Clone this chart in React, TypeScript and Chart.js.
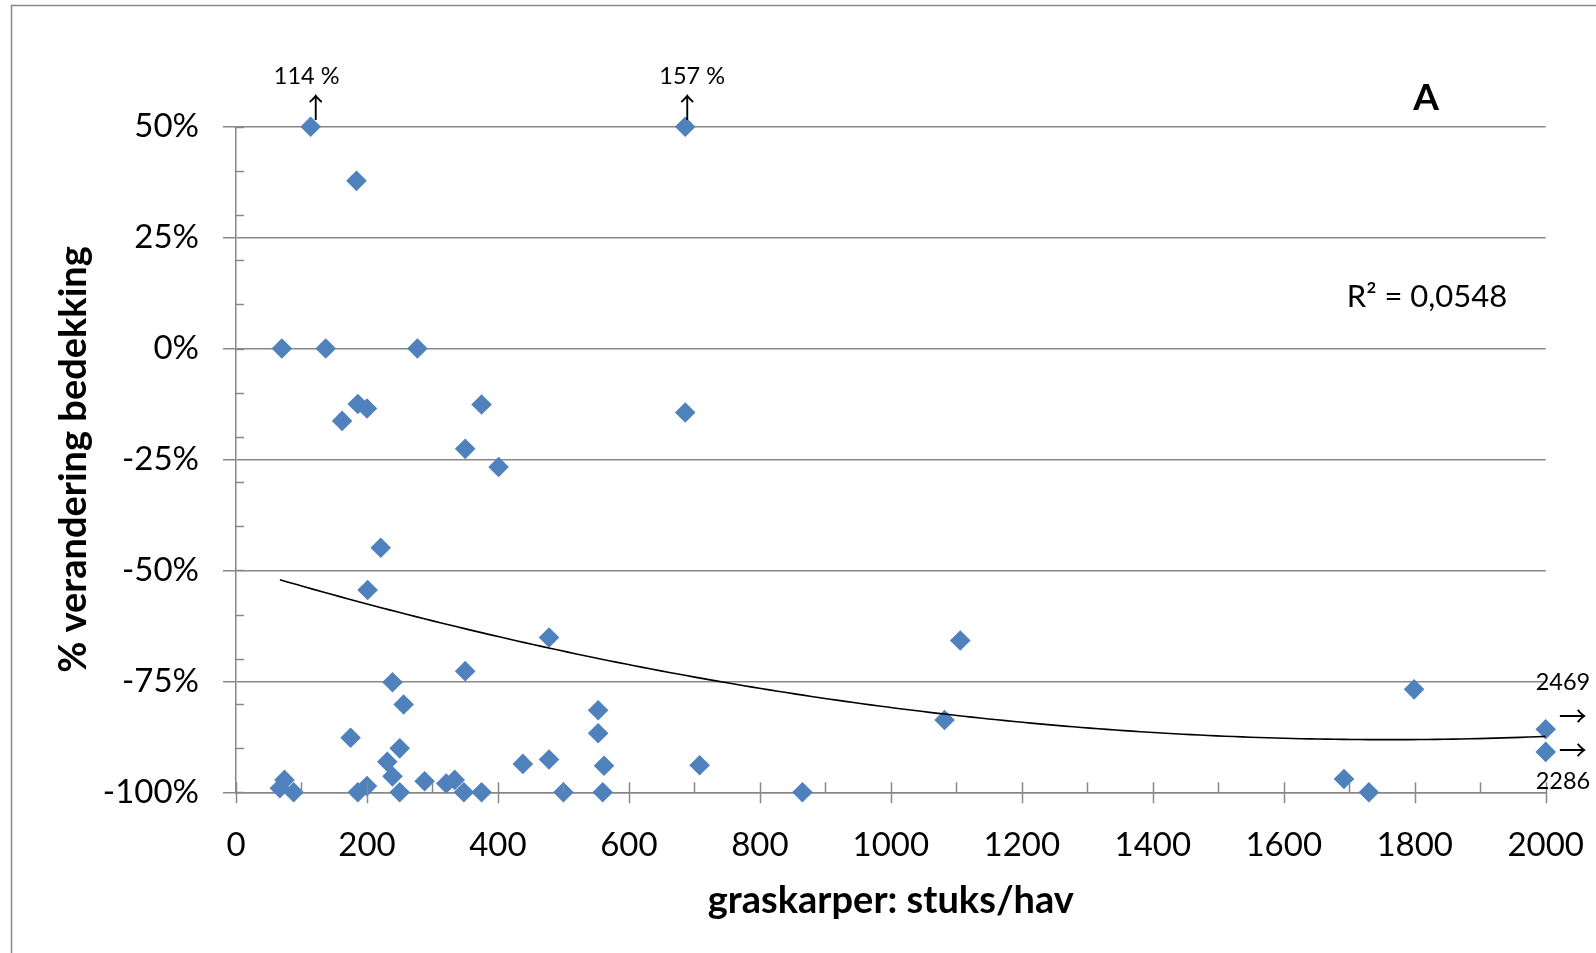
import React, { useEffect, useRef } from 'react';
import { Chart, registerables } from 'chart.js';

Chart.register(...registerables);

// ---- data ----
const carpPerHa = [
  114, 686, 184, 70, 137, 277, 162, 186, 200, 375,
  350, 401, 686, 221, 201, 478, 1106, 350, 239, 256,
  553, 553, 175, 250, 231, 239, 438, 478, 562, 288,
  321, 334, 74, 67, 88, 186, 200, 250, 348, 375,
  500, 560, 708, 865, 1082, 1799, 2000, 2000, 1692, 1730,
];
const coverChangePct = [
  50, 50, 37.8, 0, 0, 0, -16.3, -12.5, -13.5, -12.6,
  -22.6, -26.7, -14.4, -44.9, -54.4, -65.1, -65.8, -72.7, -75.2, -80.2,
  -81.5, -86.7, -87.7, -90.1, -93.1, -96.4, -93.6, -92.6, -94.0, -97.5,
  -98, -97.2, -97.2, -99.1, -100, -100, -98.6, -100, -100, -100,
  -100, -100, -93.9, -100, -83.7, -76.8, -85.8, -90.9, -97.0, -100,
];
// off-scale points: true value shown as a note
const upNotes = [
  { index: 0, text: '114 %' },
  { index: 1, text: '157 %' },
];
const rightNotes = [
  { index: 46, text: '2469', above: true },
  { index: 47, text: '2286', above: false },
];
const X_MIN = 0;
const X_MAX = 2000;
const X_MAJOR = 200;
const X_MINOR = 100;
const Y_MIN = -100;
const Y_MAX = 50;
const Y_MAJOR = 25;
const Y_MINOR = 10;
const R2_TEXT = 'R² = 0,0548';
const PANEL_LABEL = 'A';
const X_TITLE = 'graskarper: stuks/hav';
const Y_TITLE = '% verandering bedekking';

// ---- layout ----
const W = 1596;
const H = 953;
const PLOT_LEFT = 236;
const PLOT_RIGHT = 1545.7;
const PLOT_TOP = 126.7;
const PLOT_BOTTOM = 792.3;
const FONT = 'Lato, "Noto Sans", sans-serif';
const ARROW_FONT = '"Noto Sans CJK JP", "DejaVu Sans", sans-serif';
const GRID = '#888888';
const MARKER = '#4F81BD';

function quadFit(xs: number[], ys: number[]) {
  const sc = 1000;
  const s = [0, 0, 0, 0, 0];
  const t = [0, 0, 0];
  for (let i = 0; i < xs.length; i++) {
    const x = xs[i] / sc;
    const y = ys[i];
    let p = 1;
    for (let k = 0; k <= 4; k++) {
      s[k] += p;
      if (k <= 2) t[k] += y * p;
      p *= x;
    }
  }
  const m = [
    [s[0], s[1], s[2], t[0]],
    [s[1], s[2], s[3], t[1]],
    [s[2], s[3], s[4], t[2]],
  ];
  for (let c = 0; c < 3; c++) {
    let piv = c;
    for (let r = c + 1; r < 3; r++) if (Math.abs(m[r][c]) > Math.abs(m[piv][c])) piv = r;
    [m[c], m[piv]] = [m[piv], m[c]];
    for (let r = 0; r < 3; r++) {
      if (r === c) continue;
      const f = m[r][c] / m[c][c];
      for (let k = c; k < 4; k++) m[r][k] -= f * m[c][k];
    }
  }
  const a = m[0][3] / m[0][0];
  const b = m[1][3] / m[1][1];
  const cc = m[2][3] / m[2][2];
  return (x: number) => a + b * (x / sc) + cc * (x / sc) * (x / sc);
}

const decorPlugin = {
  id: 'decor',
  beforeDraw(chart: any) {
    const ctx = chart.ctx as CanvasRenderingContext2D;
    ctx.save();
    ctx.fillStyle = '#ffffff';
    ctx.fillRect(0, 0, chart.width, chart.height);
    ctx.strokeStyle = GRID;
    ctx.lineWidth = 1.5;
    ctx.beginPath();
    ctx.moveTo(11.5, chart.height);
    ctx.lineTo(11.5, 5.5);
    ctx.lineTo(chart.width, 5.5);
    ctx.stroke();
    ctx.restore();
  },
  afterDraw(chart: any) {
    const ctx = chart.ctx as CanvasRenderingContext2D;
    const xs = chart.scales.x;
    const ys = chart.scales.y;
    const area = chart.chartArea;
    ctx.save();
    ctx.strokeStyle = GRID;
    ctx.lineWidth = 1.5;
    // x ticks
    for (let v = X_MIN; v <= X_MAX; v += X_MINOR) {
      const px = Math.round(xs.getPixelForValue(v)) + 0.5;
      ctx.beginPath();
      ctx.moveTo(px, area.bottom - 10);
      ctx.lineTo(px, area.bottom + (v % X_MAJOR === 0 ? 11 : 0));
      ctx.stroke();
    }
    // y minor ticks (inside)
    for (let v = Y_MIN; v <= Y_MAX; v += Y_MINOR) {
      const py = Math.round(ys.getPixelForValue(v)) + 0.5;
      ctx.beginPath();
      ctx.moveTo(area.left, py);
      ctx.lineTo(area.left + 8, py);
      ctx.stroke();
    }
    ctx.fillStyle = '#000';
    ctx.textAlign = 'center';
    ctx.textBaseline = 'middle';
    // axis titles
    ctx.font = `bold 38px ${FONT}`;
    ctx.fillText(X_TITLE, (area.left + area.right) / 2, 901);
    ctx.save();
    ctx.translate(74, (area.top + area.bottom) / 2);
    ctx.rotate(-Math.PI / 2);
    ctx.fillText(Y_TITLE, 0, 0);
    ctx.restore();
    // panel label + R2
    ctx.font = `bold 37px ${FONT}`;
    ctx.fillText(PANEL_LABEL, 1426, 98);
    ctx.font = `31px ${FONT}`;
    ctx.fillText(R2_TEXT, 1427, 297);
    // up notes
    const upDx = [-4, 7];
    const arrowDx = [5, 2];
    upNotes.forEach((n, i) => {
      const px = xs.getPixelForValue(carpPerHa[n.index]);
      const py = ys.getPixelForValue(coverChangePct[n.index]);
      ctx.font = `23.5px ${FONT}`;
      ctx.fillText(n.text, px + upDx[i], py - 50);
      ctx.font = `28px ${ARROW_FONT}`;
      ctx.fillText('↑', px + arrowDx[i], py - 19);
    });
    // right notes
    rightNotes.forEach((n) => {
      const px = xs.getPixelForValue(carpPerHa[n.index]);
      const py = ys.getPixelForValue(coverChangePct[n.index]);
      ctx.font = `23.5px ${FONT}`;
      ctx.textAlign = 'left';
      ctx.fillText(n.text, px - 10, n.above ? py - 47 : py + 30);
      ctx.font = `28px ${ARROW_FONT}`;
      ctx.textAlign = 'center';
      ctx.fillText('→', px + 27, n.above ? py - 13 : py - 2);
    });
    ctx.restore();
  },
};

export default function App() {
  const ref = useRef<HTMLCanvasElement>(null);
  useEffect(() => {
    const canvas = ref.current;
    if (!canvas) return;
    const points = carpPerHa.map((x, i) => ({ x, y: coverChangePct[i] }));
    const f = quadFit(carpPerHa, coverChangePct);
    const lo = Math.min(...carpPerHa);
    const hi = Math.max(...carpPerHa);
    const trend: { x: number; y: number }[] = [];
    const steps = 150;
    for (let i = 0; i <= steps; i++) {
      const x = lo + ((hi - lo) * i) / steps;
      trend.push({ x, y: f(x) });
    }
    const chart = new Chart(canvas, {
      type: 'scatter',
      data: {
        datasets: [
          {
            type: 'line',
            label: 'trend',
            data: trend,
            borderColor: '#000',
            borderWidth: 1.6,
            pointRadius: 0,
            fill: false,
            tension: 0,
            order: 0,
          } as any,
          {
            label: 'graskarper',
            data: points,
            pointStyle: 'rectRot',
            pointRadius: 10.3,
            pointBackgroundColor: MARKER,
            pointBorderColor: MARKER,
            pointBorderWidth: 0,
            clip: false,
            order: 1,
          } as any,
        ],
      },
      options: {
        responsive: false,
        animation: false,
        devicePixelRatio: 1,
        layout: { padding: { left: 0, top: PLOT_TOP, right: W - PLOT_RIGHT, bottom: 0 } },
        plugins: { legend: { display: false }, tooltip: { enabled: false }, title: { display: false } },
        scales: {
          x: {
            type: 'linear',
            min: X_MIN,
            max: X_MAX,
            afterFit: (s: any) => {
              s.height = H - PLOT_BOTTOM;
              s.paddingLeft = 0;
              s.paddingRight = 0;
            },
            ticks: {
              stepSize: X_MAJOR,
              autoSkip: false,
              maxRotation: 0,
              padding: 25,
              color: '#000',
              font: { family: FONT, size: 33 },
              callback: (v: any) => String(v),
            },
            grid: { display: false },
            border: { display: true, color: GRID, width: 1.5 },
          },
          y: {
            type: 'linear',
            min: Y_MIN,
            max: Y_MAX,
            afterFit: (s: any) => {
              s.width = PLOT_LEFT;
              s.paddingTop = 0;
              s.paddingBottom = 0;
            },
            ticks: {
              stepSize: Y_MAJOR,
              padding: 24,
              color: '#000',
              font: { family: FONT, size: 33 },
              callback: (v: any) => `${v}%`,
            },
            grid: { display: true, color: GRID, lineWidth: 1.5, tickLength: 13, drawTicks: true },
            border: { display: true, color: GRID, width: 1.5 },
          },
        },
      },
      plugins: [decorPlugin],
    });
    return () => chart.destroy();
  }, []);
  return (
    <div style={{ position: 'fixed', left: 0, top: 0, width: W, height: H, background: '#fff' }}>
      <canvas ref={ref} width={W} height={H} style={{ display: 'block', width: W, height: H }} />
    </div>
  );
}
